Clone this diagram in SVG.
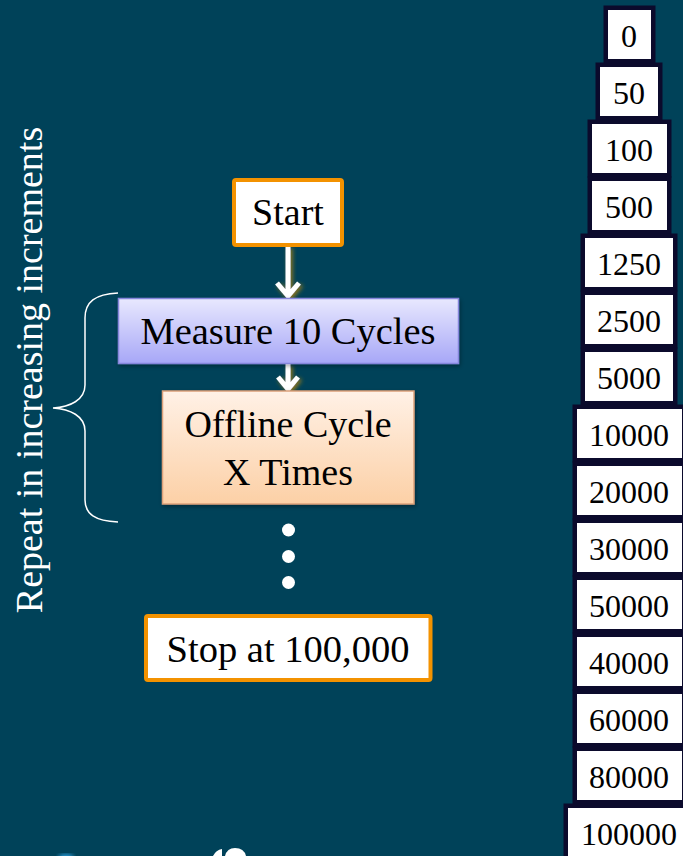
<svg xmlns="http://www.w3.org/2000/svg" width="683" height="856" viewBox="0 0 683 856">
<style>
.lbl{font-family:"Liberation Serif","Times New Roman",serif;fill:#000;text-anchor:middle}
.stk rect{fill:#fff;stroke:#0b0a2c;stroke-width:4.5}
.stk text{font-family:"Liberation Serif","Times New Roman",serif;font-size:32px;fill:#000;text-anchor:middle}
.arr{fill:none;stroke:#fff;stroke-width:5}
</style>
<defs>
<linearGradient id="gMeasure" x1="0" y1="0" x2="0" y2="1">
<stop offset="0" stop-color="#e8e8fe"/>
<stop offset="1" stop-color="#a7a7f7"/>
</linearGradient>
<linearGradient id="gOffline" x1="0" y1="0" x2="0" y2="1">
<stop offset="0" stop-color="#fff1e6"/>
<stop offset="1" stop-color="#fcd0a6"/>
</linearGradient>
<filter id="glow" x="-50%" y="-20%" width="200%" height="140%">
<feDropShadow dx="2" dy="2" stdDeviation="2" flood-color="#9a7a14" flood-opacity="0.95"/>
</filter>
<filter id="shadow" x="-10%" y="-10%" width="120%" height="130%">
<feDropShadow dx="1" dy="2" stdDeviation="2" flood-color="#000" flood-opacity="0.35"/>
</filter>
<filter id="blur"><feGaussianBlur stdDeviation="2"/></filter>
</defs>
<rect x="0" y="0" width="683" height="856" fill="#004259"/>

<text transform="translate(42,370) rotate(-90)" font-family="Liberation Serif, Times New Roman, serif" font-size="38" fill="#fff" text-anchor="middle">Repeat in increasing increments</text>

<path id="brace" d="M118,293 C95,294 85,302 85,318 L85,385 C85,400 70,407 53,408 C70,409 85,416 85,431 L85,500 C85,514 95,521 118,522" fill="none" stroke="#fff" stroke-width="1.5"/>

<g id="connectors">
<g filter="url(#glow)">
<path class="arr" d="M288,246 L288,294 M277,283 L288,296 L299,283"/>
<path class="arr" d="M288,364 L288,388 M278,377 L288,389 L298,377"/>
</g>
</g>

<g id="start">
<rect x="234" y="180" width="108" height="65" fill="#fff" stroke="#f39200" stroke-width="4" rx="2"/>
<text class="lbl" x="288" y="225" font-size="38">Start</text>
</g>

<g id="measure">
<rect x="118.5" y="298.5" width="340" height="65" fill="url(#gMeasure)" stroke="#8686dc" stroke-width="1.5" filter="url(#shadow)"/>
<text class="lbl" x="288" y="344" font-size="38.5">Measure 10 Cycles</text>
</g>

<g id="offline">
<rect x="162.5" y="391" width="251.5" height="113" fill="url(#gOffline)" stroke="#dca07a" stroke-width="1.5" filter="url(#shadow)"/>
<text class="lbl" x="288" y="437" font-size="38">Offline Cycle</text>
<text class="lbl" x="288" y="485" font-size="38">X Times</text>
</g>

<g id="dots" fill="#fff">
<circle cx="288.5" cy="530" r="6.5"/>
<circle cx="288.5" cy="556.5" r="6.5"/>
<circle cx="288.5" cy="582.5" r="6.5"/>
</g>

<g id="stop">
<rect x="146" y="616" width="284.5" height="64" fill="#fff" stroke="#f39200" stroke-width="4" rx="2"/>
<text class="lbl" x="288" y="662" font-size="38.5">Stop at 100,000</text>
</g>

<g id="stack" class="stk">
<g id="s0"><rect x="605.75" y="7.75" width="47.5" height="53.5"/><text x="629" y="47">0</text></g>
<g id="s50"><rect x="597.75" y="64.75" width="62.5" height="53.5"/><text x="629" y="104">50</text></g>
<g id="s100"><rect x="589.75" y="121.75" width="79.5" height="53.5"/><text x="629" y="161">100</text></g>
<g id="s500"><rect x="589.75" y="178.75" width="79.5" height="53.5"/><text x="629" y="218">500</text></g>
<g id="s1250"><rect x="582.75" y="235.75" width="92.5" height="53.5"/><text x="629" y="275">1250</text></g>
<g id="s2500"><rect x="582.75" y="292.75" width="92.5" height="53.5"/><text x="629" y="332">2500</text></g>
<g id="s5000"><rect x="582.75" y="349.75" width="92.5" height="53.5"/><text x="629" y="389">5000</text></g>
<g id="s10000"><rect x="574.75" y="406.75" width="109.5" height="53.5"/><text x="629" y="446">10000</text></g>
<g id="s20000"><rect x="574.75" y="463.75" width="109.5" height="53.5"/><text x="629" y="503">20000</text></g>
<g id="s30000"><rect x="574.75" y="520.75" width="109.5" height="53.5"/><text x="629" y="560">30000</text></g>
<g id="s50000"><rect x="574.75" y="577.75" width="109.5" height="53.5"/><text x="629" y="617">50000</text></g>
<g id="s40000"><rect x="574.75" y="634.75" width="109.5" height="53.5"/><text x="629" y="674">40000</text></g>
<g id="s60000"><rect x="574.75" y="691.75" width="109.5" height="53.5"/><text x="629" y="731">60000</text></g>
<g id="s80000"><rect x="574.75" y="748.75" width="109.5" height="53.5"/><text x="629" y="788">80000</text></g>
<g id="s100000"><rect x="565.75" y="805.75" width="126.5" height="53.5"/><text x="629" y="845">100000</text></g>
</g>

<ellipse cx="66" cy="858" rx="8" ry="4" fill="#2a9ad6" filter="url(#blur)"/>
<path d="M213,856 Q216,850 222,849 L222,856 Z M225,856 Q227,848 235,848 Q244,848 246,856 Z" fill="#fff"/>
</svg>
